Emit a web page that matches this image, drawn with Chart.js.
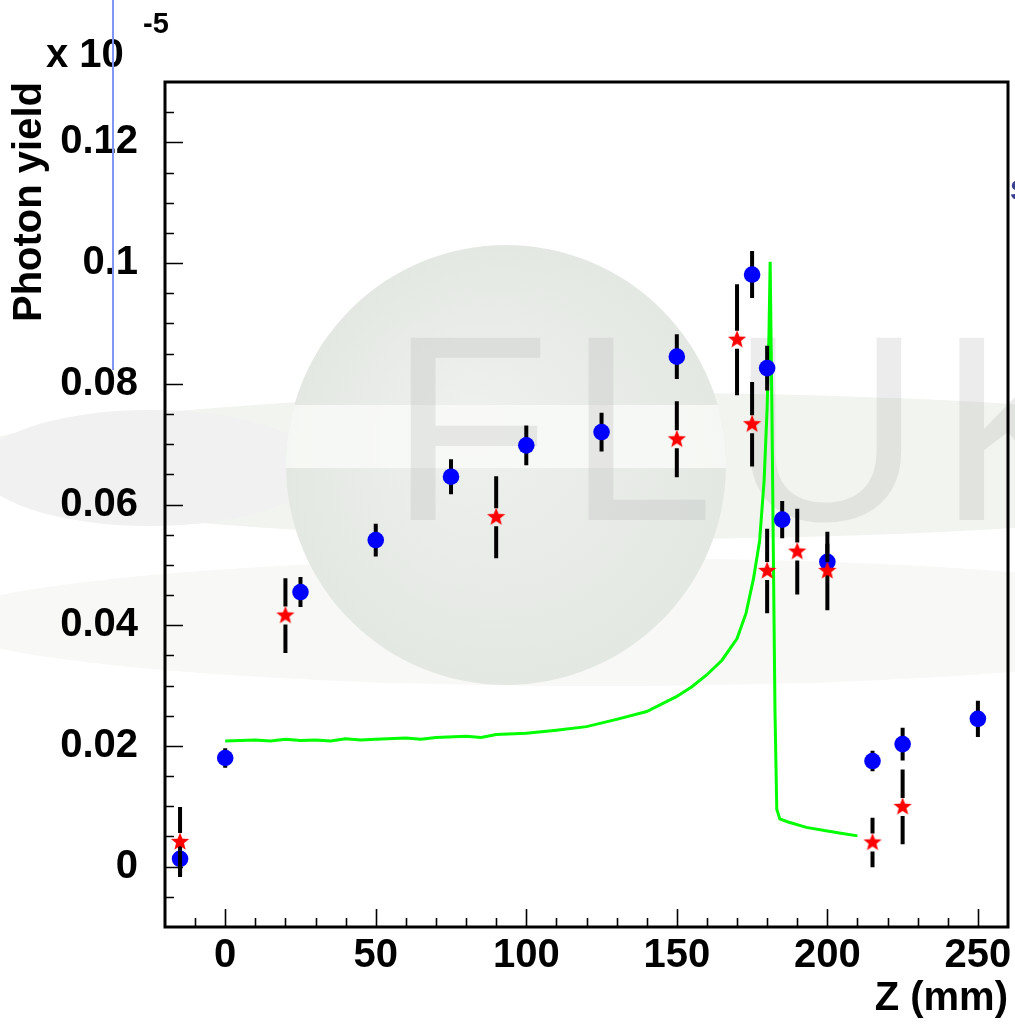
<!DOCTYPE html>
<html>
<head>
<meta charset="utf-8">
<script src="https://cdn.jsdelivr.net/npm/chart.js@4.4.1/dist/chart.umd.min.js"></script>
<style>
  html, body { margin: 0; padding: 0; background: #fff; }
  #wrap { width: 1015px; height: 1024px; position: relative; }
</style>
</head>
<body>
<div id="wrap"><canvas id="yieldChart"></canvas></div>
<script>
// measured points (blue circles)
var blueZ = [-15, 0, 25, 50, 75, 100, 125, 150, 175, 180, 185, 200, 215, 225, 250];
var blueYield = [0.0013, 0.0180, 0.0455, 0.0541, 0.0646, 0.0698, 0.0720, 0.0845, 0.0981, 0.0826, 0.0575, 0.0505, 0.0175, 0.0203, 0.0245];
var blueErr = [0.0027, 0.0016, 0.0025, 0.0027, 0.0029, 0.0033, 0.0032, 0.0037, 0.0039, 0.0037, 0.0031, 0.0030, 0.0017, 0.0027, 0.0030];

// second set (red stars)
var redZ = [-15, 20, 90, 150, 170, 175, 180, 190, 200, 215, 225];
var redYield = [0.0041, 0.0416, 0.0579, 0.0708, 0.0873, 0.0733, 0.0490, 0.0522, 0.0490, 0.0040, 0.0099];
var redErr = [0.0058, 0.0062, 0.0068, 0.0063, 0.0092, 0.0070, 0.0070, 0.0071, 0.0065, 0.0041, 0.0062];

// simulation curve (green)
var simZ = [0, 5, 10, 15, 20, 25, 30, 35, 40, 45, 50, 60, 65, 70, 80, 85, 90, 100, 110, 120, 130, 140, 150, 155, 160, 165, 170, 173,
  175.5, 177.5, 179, 180, 180.6, 181, 181.6, 182.1, 182.6, 183.2, 184.2, 187, 193, 200, 205, 210];
var simYield = [0.0208, 0.0209, 0.0210, 0.0208, 0.0211, 0.0209, 0.0210, 0.0208, 0.0212, 0.0210, 0.0211, 0.0213, 0.0211, 0.0214, 0.0216,
  0.0214, 0.0219, 0.0221, 0.0226, 0.0232, 0.0244, 0.0257, 0.0282, 0.0298, 0.0318, 0.0342, 0.0378, 0.0420,
  0.0478, 0.0540, 0.0640, 0.0760, 0.0880, 0.1002, 0.0750, 0.0500, 0.0260, 0.0095, 0.0079, 0.0074, 0.0065, 0.0059, 0.0055, 0.0051];

var xTickValues = [0, 50, 100, 150, 200, 250];
var xTickLabels = ['0', '50', '100', '150', '200', '250'];
var yTickValues = [0, 0.02, 0.04, 0.06, 0.08, 0.1, 0.12];
var yTickLabels = ['0', '0.02', '0.04', '0.06', '0.08', '0.1', '0.12'];

var FONT = '"Liberation Sans", Arial, Helvetica, sans-serif';

function toPoints(xs, ys) {
  return xs.map(function (x, i) { return { x: x, y: ys[i] }; });
}

function makeStar(size, outer, inner, color) {
  var c = document.createElement('canvas');
  c.width = size;
  c.height = size;
  var g = c.getContext('2d');
  var cx = size / 2, cy = size / 2;
  g.beginPath();
  for (var i = 0; i < 10; i++) {
    var r = i % 2 === 0 ? outer : inner;
    var a = -Math.PI / 2 + i * Math.PI / 5;
    g.lineTo(cx + r * Math.cos(a), cy + r * Math.sin(a));
  }
  g.closePath();
  g.fillStyle = color;
  g.fill();
  return c;
}

function ellipse(ctx, cx, cy, rx, ry, fill) {
  ctx.beginPath();
  ctx.ellipse(cx, cy, rx, ry, 0, 0, Math.PI * 2);
  ctx.fillStyle = fill;
  ctx.fill();
}

// faded logo behind the plot
var backdrop = {
  id: 'backdrop',
  beforeDraw: function (chart) {
    var ctx = chart.ctx;
    ctx.save();
    ctx.fillStyle = '#ffffff';
    ctx.fillRect(0, 0, chart.width, chart.height);
    ellipse(ctx, 600, 622, 660, 64, '#f8f9f6');
    ellipse(ctx, 640, 466, 700, 73, '#f1f4ef');
    ellipse(ctx, 150, 468, 170, 58, '#f1f1f1');
    var g = ctx.createRadialGradient(470, 420, 20, 506, 465, 222);
    g.addColorStop(0, '#edf0ec');
    g.addColorStop(1, '#e4e8e3');
    ctx.beginPath();
    ctx.arc(506, 465, 220, 0, Math.PI * 2);
    ctx.fillStyle = g;
    ctx.fill();
    ctx.save();
    ctx.clip();
    ctx.fillStyle = 'rgba(251,252,250,0.75)';
    ctx.fillRect(280, 405, 460, 63);
    ctx.restore();
    ctx.font = '265px ' + FONT;
    ctx.letterSpacing = '16px';
    ctx.fillStyle = 'rgba(170,170,170,0.22)';
    ctx.textBaseline = 'alphabetic';
    ctx.fillText('FLUKA', 389, 520);
    ctx.restore();
  }
};

// vertical error bars, broken around the marker when errGap is set
var errorBars = {
  id: 'errorBars',
  beforeDatasetDraw: function (chart, args) {
    var ds = chart.data.datasets[args.index];
    if (!ds.yErr) return;
    var xs = chart.scales.x, ys = chart.scales.y, ctx = chart.ctx, a = chart.chartArea;
    var gap = ds.errGap || 0;
    ctx.save();
    ctx.beginPath();
    ctx.rect(a.left, a.top, a.right - a.left, a.bottom - a.top);
    ctx.clip();
    ctx.strokeStyle = '#000000';
    ctx.lineWidth = 4;
    ds.data.forEach(function (p, i) {
      var px = xs.getPixelForValue(p.x);
      var py = ys.getPixelForValue(p.y);
      var hi = ys.getPixelForValue(p.y + ds.yErr[i]);
      var lo = ys.getPixelForValue(p.y - ds.yErr[i]);
      ctx.beginPath();
      if (hi < py - gap) { ctx.moveTo(px, hi); ctx.lineTo(px, py - gap); }
      if (lo > py + gap) { ctx.moveTo(px, py + gap); ctx.lineTo(px, lo); }
      ctx.stroke();
    });
    ctx.restore();
  }
};

// frame, inward tick marks and the exponent label
var frame = {
  id: 'frame',
  afterDraw: function (chart) {
    var ctx = chart.ctx, a = chart.chartArea, xs = chart.scales.x, ys = chart.scales.y;
    ctx.save();
    ctx.strokeStyle = '#000000';
    ctx.lineWidth = 1.6;
    ctx.beginPath();
    for (var k = -1; k < 26; k++) {
      var px = Math.round(xs.getPixelForValue(k * 10)) + 0.5;
      var len = k % 5 === 0 ? 18 : 9;
      ctx.moveTo(px, a.bottom);
      ctx.lineTo(px, a.bottom - len);
    }
    for (var j = -1; j < 26; j++) {
      var py = Math.round(ys.getPixelForValue(j * 0.005)) + 0.5;
      var ylen = j % 4 === 0 ? 18 : 9;
      ctx.moveTo(a.left, py);
      ctx.lineTo(a.left + ylen, py);
    }
    ctx.stroke();
    ctx.lineWidth = 3;
    ctx.strokeRect(a.left, a.top, a.right - a.left, a.bottom - a.top);

    ctx.fillStyle = '#000000';
    ctx.textBaseline = 'alphabetic';
    ctx.textAlign = 'left';
    ctx.font = 'bold 40px ' + FONT;
    ctx.fillText('x 10', 46, 67);
    ctx.font = 'bold 29px ' + FONT;
    ctx.fillText('-5', 143, 33);

    ctx.strokeStyle = '#7f96f5';
    ctx.lineWidth = 2;
    ctx.beginPath();
    ctx.moveTo(113, 0);
    ctx.lineTo(113, 370);
    ctx.stroke();

    ctx.font = 'bold 30px ' + FONT;
    ctx.fillStyle = '#3a3f8f';
    ctx.fillText('S', 1010, 200);
    ctx.restore();
  }
};

var starMarker = makeStar(22, 9.6, 4.1, '#ff0000');

new Chart(document.getElementById('yieldChart'), {
  type: 'scatter',
  data: {
    datasets: [
      {
        label: 'stars',
        data: toPoints(redZ, redYield),
        yErr: redErr,
        errGap: 9,
        pointStyle: starMarker,
        pointRadius: 10,
        order: 1
      },
      {
        label: 'circles',
        data: toPoints(blueZ, blueYield),
        yErr: blueErr,
        pointStyle: 'circle',
        pointRadius: 8.3,
        backgroundColor: '#0000ff',
        borderWidth: 0,
        order: 2
      },
      {
        label: 'simulation',
        data: toPoints(simZ, simYield),
        showLine: true,
        borderColor: '#00ff00',
        borderWidth: 3,
        pointRadius: 0,
        tension: 0,
        fill: false,
        order: 3
      }
    ]
  },
  options: {
    responsive: true,
    maintainAspectRatio: false,
    animation: false,
    events: [],
    layout: { autoPadding: false, padding: { top: 82, right: 7, left: 0, bottom: 0 } },
    plugins: {
      legend: { display: false },
      tooltip: { enabled: false }
    },
    scales: {
      x: {
        type: 'linear',
        min: -20,
        max: 260,
        border: { display: false },
        grid: { display: false, drawTicks: false },
        afterBuildTicks: function (scale) {
          scale.ticks = xTickValues.map(function (v) { return { value: v }; });
        },
        afterFit: function (scale) {
          scale.height = 97;
        },
        ticks: {
          autoSkip: false,
          maxRotation: 0,
          padding: 0,
          color: '#000000',
          font: { family: FONT, size: 40, weight: 'bold', lineHeight: 1.45 },
          callback: function (value, index) { return xTickLabels[index]; }
        },
        title: {
          display: true,
          text: 'Z (mm)',
          align: 'end',
          color: '#000000',
          padding: { top: 0, bottom: 1 },
          font: { family: FONT, size: 40, weight: 'bold', lineHeight: 1.2 }
        }
      },
      y: {
        type: 'linear',
        min: -0.01,
        max: 0.13,
        border: { display: false },
        grid: { display: false, drawTicks: false },
        afterBuildTicks: function (scale) {
          scale.ticks = yTickValues.map(function (v) { return { value: v }; });
        },
        afterFit: function (scale) {
          scale.width = 165;
        },
        ticks: {
          autoSkip: false,
          padding: 27,
          color: '#000000',
          font: { family: FONT, size: 40, weight: 'bold', lineHeight: 1.2 },
          callback: function (value, index) { return yTickLabels[index]; }
        },
        title: {
          display: true,
          text: 'Photon yield',
          align: 'end',
          color: '#000000',
          padding: { top: 6, bottom: 0 },
          font: { family: FONT, size: 40, weight: 'bold', lineHeight: 1.2 }
        }
      }
    }
  },
  plugins: [backdrop, errorBars, frame]
});
</script>
</body>
</html>
